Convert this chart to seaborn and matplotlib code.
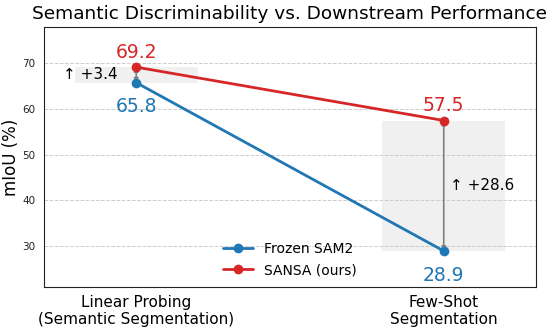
import matplotlib
matplotlib.use("Agg")
import matplotlib.pyplot as plt
import seaborn as sns
import pandas as pd

tasks = ["Linear Probing\n(Semantic Segmentation)", "Few-Shot\nSegmentation"]
models = ["Frozen SAM2", "SANSA (ours)"]
frozen = [65.8, 28.9]
sansa = [69.2, 57.5]
colors = {"Frozen SAM2": "#1f77b4", "SANSA (ours)": "#d62728"}

rows = []
for i in range(len(tasks)):
    rows.append({"pos": i, "model": models[0], "miou": frozen[i]})
    rows.append({"pos": i, "model": models[1], "miou": sansa[i]})
df = pd.DataFrame(rows)

sns.set_style("white")
plt.rcParams.update({"text.color": "black", "axes.labelcolor": "black",
                     "xtick.color": "black", "ytick.color": "#222222"})
fig = plt.figure(figsize=(5.56, 3.35), dpi=100)
ax = fig.add_axes([44 / 556, 48 / 335, 492 / 556, 260 / 335])

# gain boxes and arrows
for i in range(len(tasks)):
    lo, hi = frozen[i], sansa[i]
    ax.fill_between([i - 0.2, i + 0.2], lo, hi, color="#f0f0f0", zorder=0, lw=0)
    ax.annotate("", xy=(i, hi), xytext=(i, lo),
                arrowprops=dict(arrowstyle="<|-|>", color="gray", lw=1.2,
                                mutation_scale=6, shrinkA=0, shrinkB=0), zorder=1)
    gain = hi - lo
    if gain < 10:
        ax.text(i - 0.06, (lo + hi) / 2, f"↑ +{gain:.1f}", ha="right", va="center", fontsize=11)
    else:
        ax.text(i + 0.02, (lo + hi) / 2, f"↑ +{gain:.1f}", ha="left", va="center", fontsize=11)

sns.lineplot(data=df, x="pos", y="miou", hue="model", palette=colors, marker="o",
             markersize=7, markeredgewidth=0, linewidth=2, ax=ax, zorder=3)

for i in range(len(tasks)):
    ax.annotate(f"{sansa[i]}", (i, sansa[i]), xytext=(0, 4), textcoords="offset points",
                ha="center", va="bottom", fontsize=13.5, color=colors["SANSA (ours)"])
    ax.annotate(f"{frozen[i]}", (i, frozen[i]), xytext=(0, -10.5), textcoords="offset points",
                ha="center", va="top", fontsize=13.5, color=colors["Frozen SAM2"])

ax.set_xlim(-0.3, 1.3)
ax.set_ylim(21, 78)
ax.set_xticks(range(len(tasks)))
ax.set_xticklabels(tasks, fontsize=11)
ax.set_yticks([30, 40, 50, 60, 70])
ax.tick_params(axis="y", labelsize=7.5, length=3, color="#333333", pad=3)
ax.tick_params(axis="x", length=3, color="#333333", pad=2.5)
ax.set_xlabel("")
ax.set_ylabel("mIoU (%)", fontsize=12, labelpad=2)
ax.yaxis.grid(True, linestyle="--", color="#cccccc", linewidth=0.7)
for s in ax.spines.values():
    s.set_color("#222222")
    s.set_linewidth(0.8)
ax.set_title("Semantic Discriminability vs. Downstream Performance", fontsize=13.3, pad=6)
ax.legend(loc="lower center", frameon=False, fontsize=10, handlelength=2.2,
          bbox_to_anchor=(0.5, -0.01))

fig.savefig("out.png", dpi=100)
